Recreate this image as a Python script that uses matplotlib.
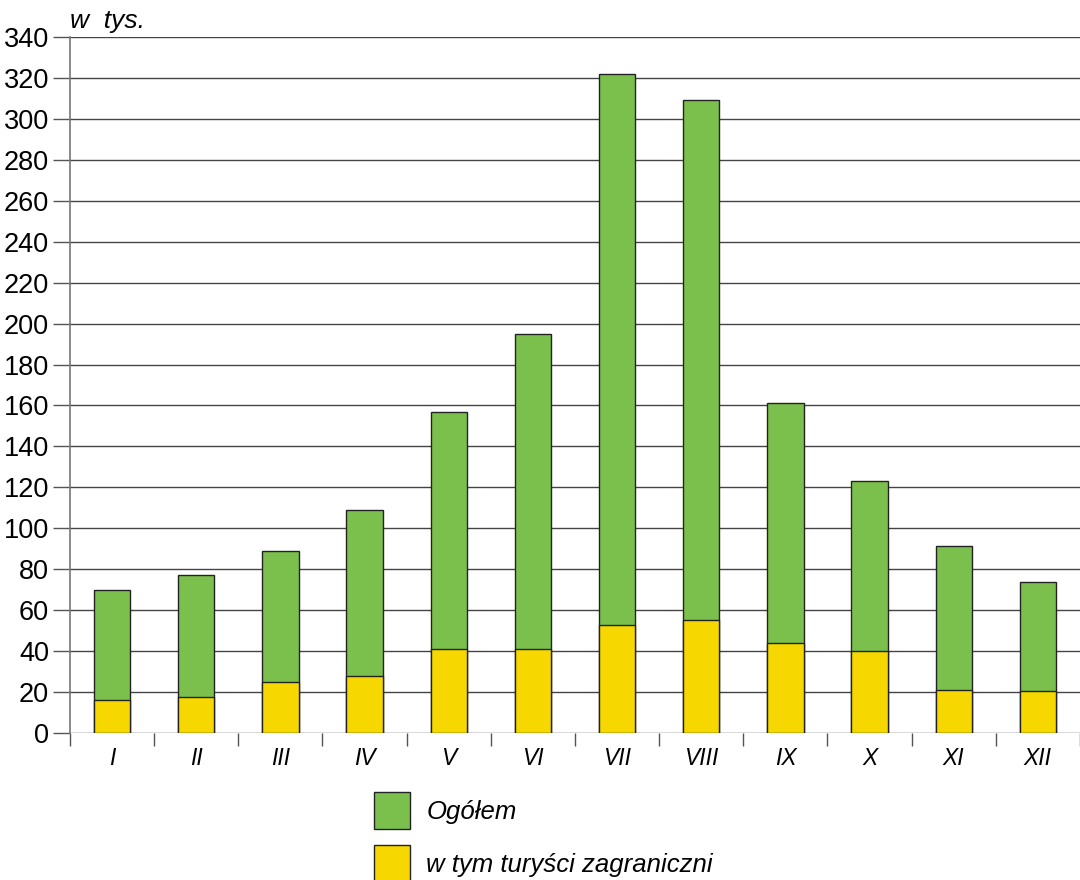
import numpy as np
import matplotlib
matplotlib.use("Agg")
import matplotlib.pyplot as plt

plt.rcParams['font.family'] = ['Liberation Sans', 'DejaVu Sans']

months = ['I', 'II', 'III', 'IV', 'V', 'VI', 'VII', 'VIII', 'IX', 'X', 'XI', 'XII']
ogolem = [70, 77, 89, 109, 157, 195, 322, 309, 161, 123, 91.5, 74]
zagraniczni = [16, 17.5, 25, 28, 41, 41, 53, 55, 44, 40, 21, 20.5]

green = '#7bc04c'
yellow = '#f6d800'

fig = plt.figure(figsize=(10.8, 8.8), dpi=100)
ax = fig.add_axes([0.0648, 0.167, 0.9352, 0.791])

x = np.arange(len(months))
ax.bar(x, ogolem, width=0.43, color=green, edgecolor='#222222', linewidth=1.0,
       label='Ogółem', zorder=3)
ax.bar(x, zagraniczni, width=0.43, color=yellow, edgecolor='#222222', linewidth=1.0,
       label='w tym turyści zagraniczni', zorder=4)

ax.set_xlim(-0.5, len(months) - 0.5)
ax.set_ylim(0, 340)
ax.set_yticks(np.arange(0, 341, 20))
ax.yaxis.grid(True, color='#444444', linewidth=1.0, zorder=0)
ax.set_axisbelow(True)

# month labels centred, tick marks between categories
ax.set_xticks(np.arange(-0.5, len(months), 1.0))
ax.set_xticklabels([])
ax.set_xticks(x, minor=True)
ax.set_xticklabels(months, minor=True, fontsize=16.5, style='italic')
ax.tick_params(axis='x', which='major', length=9, color='#555555', width=1)
ax.tick_params(axis='x', which='minor', length=0, pad=10)
ax.tick_params(axis='y', length=12, color='#555555', width=1, labelsize=19.5, pad=3)

for s in ['top', 'right', 'bottom']:
    ax.spines[s].set_visible(False)
ax.spines['left'].set_color('#777777')
ax.spines['left'].set_linewidth(1.2)

fig.text(0.0648, 0.963, 'w  tys.', fontsize=19, style='italic', ha='left', va='bottom')

fig.legend(loc='upper left', bbox_to_anchor=(0.334, 0.1145), frameon=False,
           prop={'style': 'italic', 'size': 18.5}, borderpad=0,
           handlelength=1.4, handleheight=1.85, labelspacing=0.62, handletextpad=0.66)

fig.savefig('out.png', dpi=100)
